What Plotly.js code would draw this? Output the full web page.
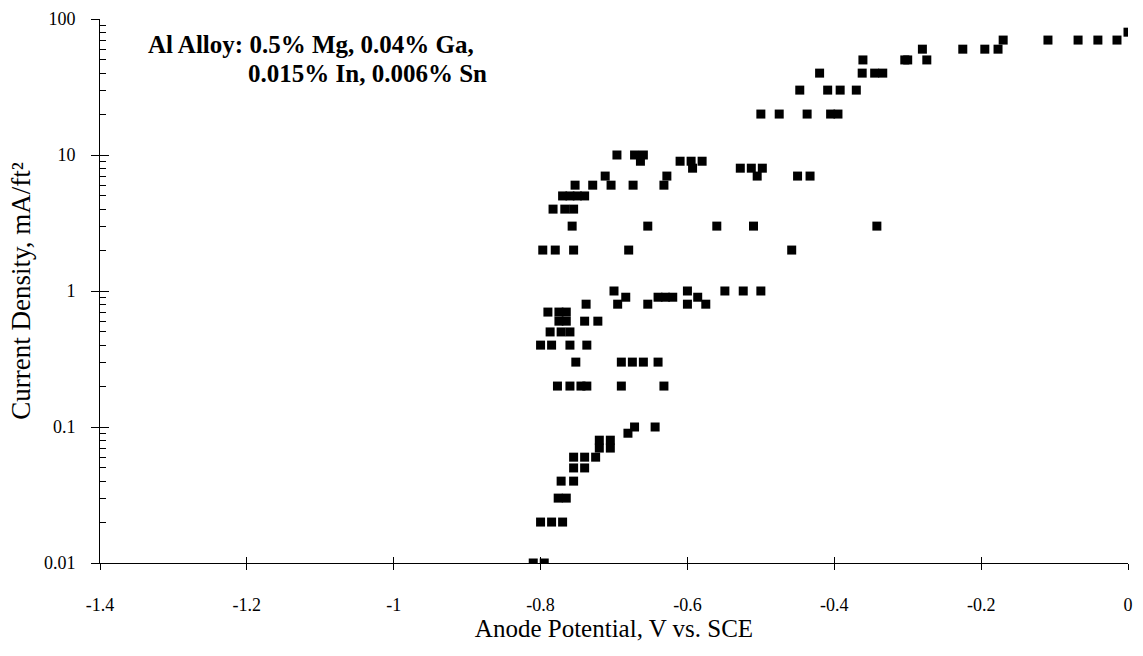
<!DOCTYPE html>
<html>
<head>
<meta charset="utf-8">
<script src="https://cdn.plot.ly/plotly-3.0.1.min.js"></script>
<style>html,body{margin:0;padding:0;background:#fff;}#chart{width:1143px;height:656px;}</style>
</head>
<body>
<div id="chart"></div>
<script>
// Anode potential (V vs. SCE) and current density (mA/ft²)
const potentialHigh = [-0.50,-0.475,-0.437,-0.405,-0.395,-0.447,-0.409,-0.392,-0.37,-0.42,-0.362,-0.345,-0.334,-0.361,-0.304,-0.30,-0.274,-0.28,-0.225,-0.195,-0.177,-0.17,-0.109,-0.068,-0.041,-0.015,0];
const currentHigh   = [20,20,20,20,20,30,30,30,30,40,40,40,40,50,50,50,50,60,60,60,60,70,70,70,70,70,80];

const potentialTen = [-0.696,-0.672,-0.66,-0.664,-0.61,-0.595,-0.58,-0.593,-0.712,-0.628,-0.753,-0.729,-0.704,-0.674,-0.632,-0.77,-0.76,-0.75,-0.74,-0.783,-0.767,-0.755,-0.757,-0.654,-0.56,-0.51,-0.342,-0.797,-0.78,-0.755,-0.68,-0.458,-0.528,-0.513,-0.498,-0.505,-0.45,-0.433];
const currentTen   = [10,10,10,9,9,9,9,8,7,7,6,6,6,6,6,5,5,5,5,4,4,4,3,3,3,3,3,2,2,2,2,2,8,8,8,7,7,7];

const potentialOne = [-0.70,-0.684,-0.695,-0.654,-0.64,-0.63,-0.62,-0.60,-0.586,-0.60,-0.575,-0.549,-0.524,-0.50,-0.738,-0.79,-0.775,-0.765,-0.775,-0.765,-0.74,-0.722,-0.787,-0.772,-0.76,-0.80,-0.785,-0.76,-0.737,-0.752,-0.69,-0.675,-0.66,-0.64,-0.777,-0.76,-0.745,-0.737,-0.69,-0.632];
const currentOne   = [1,0.9,0.8,0.8,0.9,0.9,0.9,1,0.9,0.8,0.8,1,1,1,0.8,0.7,0.7,0.7,0.6,0.6,0.6,0.6,0.5,0.5,0.5,0.4,0.4,0.4,0.4,0.3,0.3,0.3,0.3,0.3,0.2,0.2,0.2,0.2,0.2,0.2];

const potentialLow = [-0.644,-0.672,-0.681,-0.72,-0.705,-0.72,-0.705,-0.755,-0.74,-0.725,-0.755,-0.74,-0.772,-0.755,-0.776,-0.765,-0.80,-0.785,-0.77,-0.81,-0.795];
const currentLow   = [0.1,0.1,0.09,0.08,0.08,0.07,0.07,0.06,0.06,0.06,0.05,0.05,0.04,0.04,0.03,0.03,0.02,0.02,0.02,0.01,0.01];

const xTickVals = [-1.4,-1.2,-1,-0.8,-0.6,-0.4,-0.2,0];
const xTickText = ['-1.4','-1.2','-1','-0.8','-0.6','-0.4','-0.2','0'];
const yTickVals = [0.01,0.1,1,10,100];
const yTickText = ['0.01','0.1','1','10','100'];
const yMinorVals = [];
[0.01,0.1,1,10].forEach(d=>{for(let k=2;k<=9;k++) yMinorVals.push(d*k);});

const xs = potentialHigh.concat(potentialTen, potentialOne, potentialLow);
const ys = currentHigh.concat(currentTen, currentOne, currentLow);

const serif = 'Liberation Serif, Times New Roman, serif';

const traces = [
  {x: xs, y: ys, type:'scatter', mode:'markers',
   marker:{symbol:'square', size:9, color:'#000', line:{width:0}}, hoverinfo:'x+y'},
  {x: [], y: [], xaxis:'x2', yaxis:'y2', type:'scatter', mode:'markers', showlegend:false}
];

const layout = {
  width:1143, height:656,
  margin:{l:100, r:15, t:19, b:93},
  paper_bgcolor:'#fff', plot_bgcolor:'#fff',
  showlegend:false,
  font:{family:serif, color:'#000', size:17},
  xaxis:{range:[-1.4,0], autorange:false, tickvals:xTickVals, ticktext:xTickText,
    ticks:'outside', ticklen:6, tickcolor:'#000', tickwidth:1,
    showline:true, linecolor:'#000', linewidth:1, showgrid:false, zeroline:false,
    ticklabelstandoff:19, tickfont:{family:serif, size:18},
    title:{text:'Anode Potential, V vs. SCE', font:{family:serif, size:25}, standoff:1}},
  yaxis:{type:'log', range:[-2,2], autorange:false, tickvals:yTickVals, ticktext:yTickText,
    ticks:'outside', ticklen:8, tickcolor:'#000', tickwidth:1,
    showline:true, linecolor:'#000', linewidth:1, showgrid:false, zeroline:false,
    ticklabelstandoff:12, tickfont:{family:serif, size:18},
    title:{text:'Current Density, mA/ft²', font:{family:serif, size:27}, standoff:5}},
  xaxis2:{overlaying:'x', anchor:'y2', side:'bottom', range:[-1.4,0], autorange:false,
    tickvals:xTickVals, ticks:'inside', ticklen:6, tickcolor:'#000', showticklabels:false,
    showline:false, showgrid:false, zeroline:false},
  yaxis2:{overlaying:'y', anchor:'x2', side:'left', type:'log', range:[-2,2], autorange:false,
    tickvals:yTickVals, ticks:'inside', ticklen:9, tickcolor:'#000', showticklabels:false,
    minor:{tickvals:yMinorVals, ticks:'inside', ticklen:6, tickcolor:'#000', showgrid:false},
    showline:false, showgrid:false, zeroline:false},
  annotations:[
    {xref:'paper', yref:'paper', x:0.046, y:0.953, xanchor:'left', yanchor:'middle',
     text:'<b>Al Alloy: 0.5% Mg, 0.04% Ga,</b>', showarrow:false, font:{family:serif, size:25}, borderpad:0},
    {xref:'paper', yref:'paper', x:0.143, y:0.9, xanchor:'left', yanchor:'middle',
     text:'<b>0.015% In, 0.006% Sn</b>', showarrow:false, font:{family:serif, size:25}, borderpad:0}
  ]
};

Plotly.newPlot('chart', traces, layout, {displayModeBar:false, staticPlot:true});
</script>
</body>
</html>
